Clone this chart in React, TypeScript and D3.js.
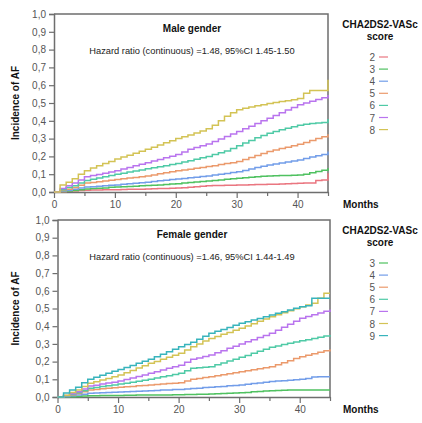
import React, { useRef, useEffect } from 'react';
import * as d3 from 'd3';

// months 0..45, one step per month
const months = d3.range(0, 46);

const yTicks = [0, 0.1, 0.2, 0.3, 0.4, 0.5, 0.6, 0.7, 0.8, 0.9, 1.0];
const yTickLabels = ['0,0', '0,1', '0,2', '0,3', '0,4', '0,5', '0,6', '0,7', '0,8', '0,9', '1,0'];
const xTicks = [0, 10, 20, 30, 40];
const xMinorTicks = [5, 15, 25, 35, 45];

const maleScores = ['2', '3', '4', '5', '6', '7', '8'];
const femaleScores = ['3', '4', '5', '6', '7', '8', '9'];

// male gender, incidence by month
const male2 = [0, .002, .004, .006, .008, .01, .011, .011, .012, .012, .013, .014, .015, .015, .016, .017, .018, .019, .02, .021, .022, .024, .027, .03, .033, .035, .036, .037, .038, .038, .039, .04, .041, .042, .042, .043, .044, .045, .046, .048, .049, .05, .05, .065, .068, .105];
const male3 = [0, .003, .006, .009, .013, .017, .019, .021, .023, .026, .028, .03, .031, .033, .035, .036, .038, .04, .042, .045, .047, .05, .053, .056, .059, .062, .065, .068, .071, .074, .077, .08, .083, .085, .088, .09, .091, .092, .093, .094, .095, .10, .108, .115, .122, .135];
const male4 = [0, .005, .01, .015, .022, .028, .03, .033, .035, .038, .04, .043, .046, .049, .052, .055, .059, .063, .066, .07, .073, .076, .08, .083, .087, .09, .095, .10, .104, .109, .114, .121, .129, .137, .145, .152, .158, .163, .168, .174, .18, .188, .196, .204, .21, .228];
const male5 = [0, .008, .015, .025, .038, .05, .054, .058, .062, .066, .07, .074, .078, .082, .086, .09, .096, .102, .108, .114, .12, .124, .128, .133, .138, .143, .148, .154, .16, .165, .172, .183, .194, .205, .216, .228, .236, .244, .252, .26, .268, .278, .29, .30, .31, .325];
const male6 = [0, .012, .025, .035, .05, .065, .072, .079, .086, .093, .10, .106, .112, .118, .124, .13, .136, .142, .148, .154, .16, .168, .176, .184, .192, .20, .21, .22, .23, .245, .26, .275, .29, .305, .318, .33, .34, .35, .358, .366, .375, .38, .385, .388, .39, .41];
const male7 = [0, .02, .035, .05, .068, .085, .092, .099, .106, .113, .12, .129, .138, .147, .156, .165, .174, .183, .192, .201, .21, .225, .24, .25, .26, .27, .284, .298, .312, .326, .34, .355, .37, .385, .40, .414, .43, .445, .46, .475, .49, .50, .51, .52, .53, .545];
const male8 = [0, .04, .055, .075, .10, .12, .135, .148, .16, .172, .185, .196, .207, .218, .229, .24, .252, .264, .276, .288, .30, .31, .32, .332, .343, .355, .375, .40, .425, .445, .462, .47, .478, .485, .49, .497, .503, .508, .513, .518, .525, .555, .57, .57, .57, .63];

// female gender, incidence by month
const female3 = [0, .001, .002, .003, .005, .007, .007, .008, .008, .009, .009, .01, .01, .011, .011, .011, .012, .012, .012, .013, .013, .014, .014, .015, .016, .017, .018, .02, .021, .023, .024, .026, .029, .031, .034, .036, .037, .038, .039, .04, .04, .04, .04, .04, .04, .04];
const female4 = [0, .003, .007, .011, .016, .021, .022, .024, .025, .027, .028, .03, .031, .033, .034, .036, .037, .039, .04, .042, .043, .045, .048, .05, .053, .055, .058, .06, .063, .065, .068, .072, .076, .079, .083, .087, .09, .092, .095, .097, .10, .105, .113, .114, .115, .115];
const female5 = [0, .006, .012, .02, .03, .04, .043, .046, .049, .052, .055, .058, .06, .063, .065, .068, .071, .073, .076, .078, .081, .09, .1, .105, .11, .115, .12, .126, .132, .137, .143, .149, .154, .16, .165, .171, .182, .194, .205, .217, .228, .236, .245, .253, .262, .27];
const female6 = [0, .006, .014, .024, .036, .049, .054, .059, .063, .068, .073, .078, .084, .089, .095, .10, .107, .114, .12, .127, .134, .148, .162, .165, .168, .171, .182, .192, .203, .213, .224, .235, .247, .258, .27, .281, .288, .296, .303, .311, .318, .324, .331, .337, .344, .35];
const female7 = [0, .008, .018, .03, .045, .062, .067, .073, .079, .084, .09, .099, .108, .116, .125, .134, .143, .152, .162, .171, .18, .197, .213, .221, .229, .237, .25, .262, .275, .287, .30, .312, .324, .336, .348, .36, .377, .394, .411, .428, .445, .455, .465, .475, .485, .495];
const female8 = [0, .01, .025, .04, .06, .077, .086, .096, .105, .115, .124, .137, .15, .164, .177, .19, .201, .213, .224, .236, .247, .265, .284, .3, .316, .331, .342, .354, .365, .377, .388, .401, .414, .428, .441, .454, .465, .476, .487, .499, .51, .52, .53, .558, .586, .586];
const female9 = [0, .023, .04, .055, .08, .10, .112, .123, .134, .145, .155, .166, .178, .19, .202, .213, .227, .241, .255, .27, .284, .297, .309, .326, .343, .36, .371, .382, .393, .405, .416, .425, .435, .444, .454, .463, .473, .482, .492, .501, .51, .515, .558, .558, .558, .558];

const colors = {
  '2': '#ea7680',
  '3': '#4fc160',
  '4': '#729de9',
  '5': '#eb9a6c',
  '6': '#4fcaa6',
  '7': '#b974ee',
  '8': '#d3c355',
  '9': '#38b4bc',
};

const panels = [
  {
    title: 'Male gender',
    hazard: 'Hazard ratio (continuous) =1.48, 95%CI 1.45-1.50',
    scores: maleScores,
    series: [male2, male3, male4, male5, male6, male7, male8],
    left: 54, right: 328, top: 14, bottom: 192,
  },
  {
    title: 'Female gender',
    hazard: 'Hazard ratio (continuous) =1.46, 95%CI 1.44-1.49',
    scores: femaleScores,
    series: [female3, female4, female5, female6, female7, female8, female9],
    left: 57.5, right: 330, top: 220, bottom: 397,
  },
];

const FONT = '"Liberation Sans", Arial, Helvetica, sans-serif';
const AXIS = '#6e6e6e';
const LABEL = '#555';

const App = () => {
  const ref = useRef<SVGSVGElement>(null);

  useEffect(() => {
    const svg = d3.select(ref.current);
    svg.selectAll('*').remove();
    svg.attr('font-family', FONT);

    panels.forEach(p => {
      const x = d3.scaleLinear().domain([0, 45]).range([p.left, p.right]);
      const y = d3.scaleLinear().domain([0, 1]).range([p.bottom, p.top]);
      const g = svg.append('g');

      // frame (top and right)
      g.append('path')
        .attr('d', `M${p.left},${p.top}H${p.right}V${p.bottom}`)
        .attr('fill', 'none')
        .attr('stroke', AXIS)
        .attr('stroke-width', 1.5);

      // y axis
      g.append('g')
        .attr('transform', `translate(${p.left},0)`)
        .call(d3.axisLeft(y).tickValues(yTicks).tickSize(5).tickPadding(3)
          .tickFormat((d, i) => yTickLabels[i]))
        .call(a => a.select('.domain').attr('stroke', AXIS).attr('stroke-width', 1.5))
        .call(a => a.selectAll('line').attr('stroke', AXIS).attr('stroke-width', 1.2))
        .call(a => a.selectAll('text').attr('fill', LABEL).attr('font-size', 10).attr('font-family', FONT));

      // x axis
      g.append('g')
        .attr('transform', `translate(0,${p.bottom})`)
        .call(d3.axisBottom(x).tickValues(xTicks).tickSize(6).tickPadding(3).tickSizeOuter(0))
        .call(a => a.select('.domain').attr('stroke', AXIS).attr('stroke-width', 1.5))
        .call(a => a.selectAll('line').attr('stroke', AXIS).attr('stroke-width', 1.2))
        .call(a => a.selectAll('text').attr('fill', LABEL).attr('font-size', 10).attr('font-family', FONT));

      g.append('g')
        .attr('transform', `translate(0,${p.bottom})`)
        .call(d3.axisBottom(x).tickValues(xMinorTicks).tickSize(4).tickFormat(() => '').tickSizeOuter(0))
        .call(a => a.select('.domain').remove())
        .call(a => a.selectAll('line').attr('stroke', AXIS).attr('stroke-width', 1.2));

      // curves
      const line = d3.line<number>()
        .x((d, i) => x(months[i]))
        .y(d => y(d))
        .curve(d3.curveStepAfter);

      p.series.forEach((s, i) => {
        g.append('path')
          .datum(s)
          .attr('fill', 'none')
          .attr('stroke', colors[p.scores[i]])
          .attr('stroke-width', 1.5)
          .attr('d', line);
      });

      // titles
      g.append('text')
        .attr('x', 192).attr('y', p.top + 18)
        .attr('text-anchor', 'middle')
        .attr('font-size', 10).attr('font-weight', 'bold')
        .attr('fill', '#111')
        .text(p.title);

      g.append('text')
        .attr('x', 192).attr('y', p.top + 40)
        .attr('text-anchor', 'middle')
        .attr('font-size', 9.3)
        .attr('fill', '#222')
        .text(p.hazard);

      g.append('text')
        .attr('transform', `translate(19,${(p.top + p.bottom) / 2}) rotate(-90)`)
        .attr('text-anchor', 'middle')
        .attr('font-size', 10).attr('font-weight', 'bold')
        .attr('fill', '#111')
        .text('Incidence of AF');

      g.append('text')
        .attr('x', 343).attr('y', p.bottom + 16)
        .attr('font-size', 10).attr('font-weight', 'bold')
        .attr('fill', '#111')
        .text('Months');

      // legend
      const lg = g.append('g').attr('transform', `translate(380,${p.top})`);
      lg.append('text')
        .attr('x', 0).attr('y', 14)
        .attr('text-anchor', 'middle')
        .attr('font-size', 10).attr('font-weight', 'bold')
        .attr('fill', '#111')
        .text('CHA2DS2-VASc');
      lg.append('text')
        .attr('x', 0).attr('y', 26)
        .attr('text-anchor', 'middle')
        .attr('font-size', 10).attr('font-weight', 'bold')
        .attr('fill', '#111')
        .text('score');

      const items = lg.selectAll('.item')
        .data(p.scores)
        .enter()
        .append('g')
        .attr('class', 'item')
        .attr('transform', (d, i) => `translate(0,${43 + i * 12.1})`);

      items.append('text')
        .attr('x', -5).attr('y', 4)
        .attr('text-anchor', 'end')
        .attr('font-size', 10)
        .attr('fill', LABEL)
        .text(d => d);

      items.append('line')
        .attr('x1', -1).attr('x2', 8)
        .attr('stroke', d => colors[d])
        .attr('stroke-width', 1.2);
    });
  }, []);

  return (
    <svg
      ref={ref}
      width={422}
      height={423}
      style={{ position: 'absolute', left: 0, top: 0, background: '#fff' }}
    />
  );
};

export default App;
